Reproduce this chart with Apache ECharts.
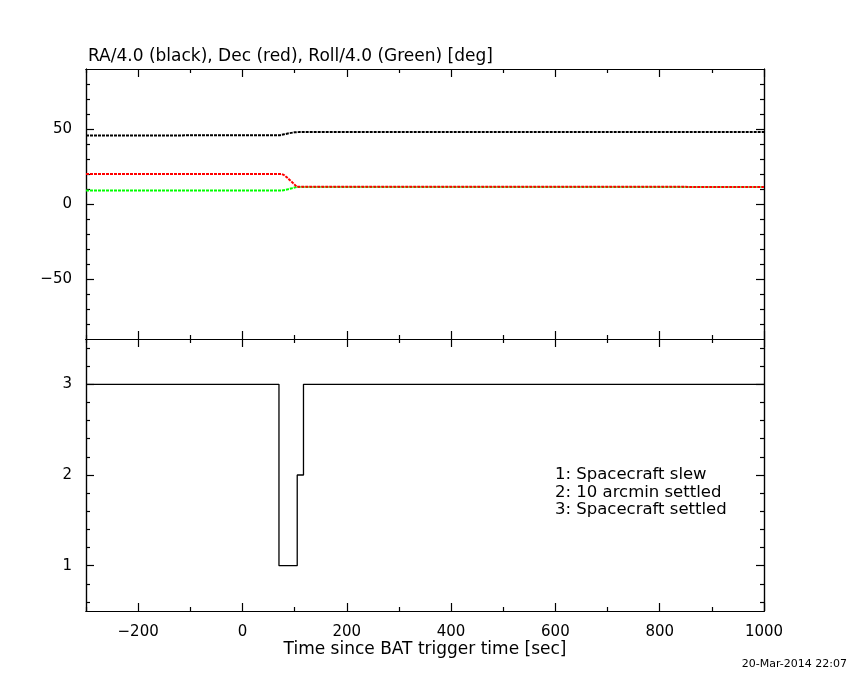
<!DOCTYPE html>
<html>
<head>
<meta charset="utf-8">
<script src="https://cdn.jsdelivr.net/npm/echarts@6/dist/echarts.min.js"></script>
<style>
    html, body { margin: 0; padding: 0; background: #fff; }
    #main { width: 850px; height: 680px; }
</style>
</head>
<body>
<div id="main"></div>
<script>
// attitude (deg), points: [time, value]
var raData = [[-300, 45.7], [72, 45.8], [80, 46.5], [90, 47.2], [100, 47.8], [110, 48.0], [1000, 48.0]];
var decData = [[-300, 20.0], [75, 20.0], [80, 19.2], [85, 17.8], [90, 16.2], [95, 14.6], [100, 12.9], [104, 11.5], [1000, 11.4]];
var rollData = [[-300, 9.0], [75, 9.0], [85, 9.6], [95, 10.5], [100, 11.0], [106, 11.4], [1000, 11.4]];
// settle state
var stateData = [[-300, 3], [70, 1], [105, 2], [117, 3], [1000, 3]];

var xMajorTicks = [-200, 0, 200, 400, 600, 800, 1000];
var xMinorTicks = [-300, -100, 100, 300, 500, 700, 900];
var topMajorTicks = [-50, 0, 50];
var topMinorTicks = [-80, -70, -60, -40, -30, -20, -10, 10, 20, 30, 40, 60, 70, 80];
var botMajorTicks = [1, 2, 3];
var botMinorTicks = [0.6, 0.8, 1.2, 1.4, 1.6, 1.8, 2.2, 2.4, 2.6, 2.8, 3.2, 3.4];
var stateNotes = ['1: Spacecraft slew', '2: 10 arcmin settled', '3: Spacecraft settled'];

var font = 'DejaVu Sans';
var myChart = echarts.init(document.getElementById('main'));

function minusFmt(v) {
    return String(v).replace('-', '\u2212');
}

// one axis = one set of ticks on one side (PGPLOT style box, ticks inside)
function makeAxis(grid, pos, min, max, ticks, len, labels) {
    return {
        type: 'value',
        gridIndex: grid,
        position: pos,
        min: min,
        max: max,
        splitLine: {show: false},
        axisLine: {show: true, onZero: false, lineStyle: {color: '#000', width: 1.2}},
        axisTick: {show: true, inside: true, length: len, customValues: ticks, lineStyle: {color: '#000', width: 1.2}},
        axisLabel: {
            show: !!labels,
            customValues: ticks,
            formatter: minusFmt,
            color: '#000',
            fontFamily: font,
            fontSize: 15,
            margin: 14
        }
    };
}

var xAxes = [], yAxes = [];
[0, 1].forEach(function (g) {
    xAxes.push(makeAxis(g, 'bottom', -300, 1000, xMinorTicks, 4, false));
    xAxes.push(makeAxis(g, 'bottom', -300, 1000, xMajorTicks, 8, g === 1));
    xAxes.push(makeAxis(g, 'top', -300, 1000, xMinorTicks, 4, false));
    xAxes.push(makeAxis(g, 'top', -300, 1000, xMajorTicks, 8, false));
});
yAxes.push(makeAxis(0, 'left', -90, 90, topMinorTicks, 4, false));
yAxes.push(makeAxis(0, 'left', -90, 90, topMajorTicks, 8, true));
yAxes.push(makeAxis(0, 'right', -90, 90, topMinorTicks, 4, false));
yAxes.push(makeAxis(0, 'right', -90, 90, topMajorTicks, 8, false));
yAxes.push(makeAxis(1, 'left', 0.5, 3.5, botMinorTicks, 4, false));
yAxes.push(makeAxis(1, 'left', 0.5, 3.5, botMajorTicks, 8, true));
yAxes.push(makeAxis(1, 'right', 0.5, 3.5, botMinorTicks, 4, false));
yAxes.push(makeAxis(1, 'right', 0.5, 3.5, botMajorTicks, 8, false));

function lineSeries(name, data, color) {
    return {
        name: name,
        type: 'line',
        xAxisIndex: 0,
        yAxisIndex: 0,
        data: data,
        showSymbol: false,
        silent: true,
        lineStyle: {color: color, width: 2, type: [3, 1]}
    };
}

var option = {
    animation: false,
    backgroundColor: '#fff',
    title: {
        text: 'RA/4.0 (black), Dec (red), Roll/4.0 (Green) [deg]',
        left: 83,
        top: 43,
        textStyle: {fontFamily: font, fontSize: 17, fontWeight: 'normal', color: '#000'}
    },
    grid: [
        {left: 86, right: 86, top: 69, height: 270},
        {left: 86, right: 86, top: 339, height: 272}
    ],
    xAxis: xAxes,
    yAxis: yAxes,
    series: [
        lineSeries('RA', raData, '#000000'),
        lineSeries('Roll', rollData, '#00ff00'),
        lineSeries('Dec', decData, '#ff0000'),
        {
            name: 'state',
            type: 'line',
            step: 'end',
            xAxisIndex: 4,
            yAxisIndex: 4,
            data: stateData,
            showSymbol: false,
            silent: true,
            lineStyle: {color: '#000', width: 1.3}
        }
    ],
    graphic: [
        {
            type: 'text',
            left: 'center',
            top: 641,
            style: {text: 'Time since BAT trigger time [sec]', fill: '#000', font: '17px "DejaVu Sans"'}
        },
        {
            type: 'text',
            right: 3,
            top: 659,
            style: {text: '20-Mar-2014 22:07', fill: '#000', font: '11px "DejaVu Sans"'}
        },
        {
            type: 'text',
            left: 555,
            top: 466,
            style: {text: stateNotes.join('\n'), fill: '#000', font: '16.5px "DejaVu Sans"', lineHeight: 17.5}
        }
    ]
};
myChart.setOption(option);
</script>
</body>
</html>
